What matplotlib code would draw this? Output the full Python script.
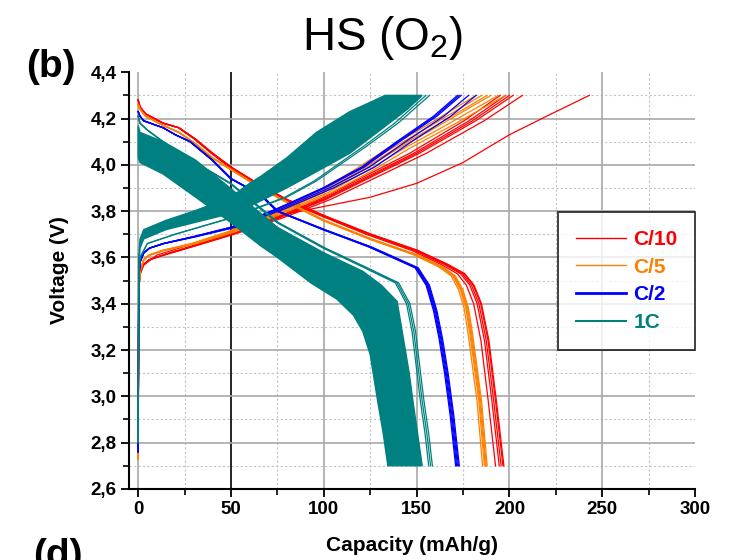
import numpy as np
import matplotlib
matplotlib.use('Agg')
import matplotlib.pyplot as plt
from matplotlib.lines import Line2D
from matplotlib.ticker import MultipleLocator, FuncFormatter

plt.rcParams['font.family'] = ['Liberation Sans', 'DejaVu Sans']
plt.rcParams['font.weight'] = 'bold'

# --- values (capacity mAh/g, voltage V) ---

# C/10 (red)
c10_dis_cap = [0, 1, 4, 13.5, 22, 31, 40, 50, 66, 80, 100, 125, 150, 166, 175, 180, 184, 188, 192, 196]
c10_dis_v = [4.28, 4.25, 4.22, 4.18, 4.16, 4.11, 4.05, 3.99, 3.91, 3.85, 3.78, 3.70, 3.63, 3.57, 3.53, 3.48, 3.40, 3.24, 2.98, 2.70]
c10_dis_end = [192.5, 194.5, 195.5, 196.5, 197.0]
c10_chg_cap = [0, 0.3, 1, 3, 6, 13.5, 30, 50, 75, 100, 125, 150, 180, 200]
c10_chg_v = [2.75, 3.45, 3.53, 3.57, 3.59, 3.61, 3.65, 3.70, 3.77, 3.85, 3.95, 4.05, 4.19, 4.30]
c10_chg_end = [195, 198, 200, 202, 207]
c10_first_cap = [0, 0.5, 2, 10, 30, 50, 75, 100, 125, 150, 175, 200, 220, 243]
c10_first_v = [2.75, 3.50, 3.56, 3.61, 3.66, 3.71, 3.78, 3.82, 3.86, 3.92, 4.01, 4.13, 4.21, 4.30]

# C/5 (orange)
c5_dis_cap = [0, 1, 4, 13.5, 22, 31, 40, 50, 66, 80, 100, 125, 150, 163, 170, 174, 177, 179, 184, 187]
c5_dis_v = [4.26, 4.24, 4.21, 4.17, 4.14, 4.09, 4.03, 3.98, 3.90, 3.84, 3.76, 3.68, 3.61, 3.56, 3.52, 3.46, 3.38, 3.28, 2.98, 2.70]
c5_dis_end = [185.5, 186.5, 187.0, 187.5, 188.0]
c5_chg_cap = [0, 0.3, 1, 3, 6, 13.5, 30, 50, 75, 100, 122, 140, 160, 175, 190]
c5_chg_v = [2.73, 3.45, 3.54, 3.59, 3.61, 3.63, 3.66, 3.71, 3.79, 3.88, 3.98, 4.07, 4.16, 4.23, 4.30]
c5_chg_end = [182, 185, 188, 190, 194, 198]

# C/2 (blue)
c2_dis_cap = [0, 1, 3, 13.5, 20, 28, 40, 50, 66, 75, 100, 125, 150, 156, 160, 163, 166, 169, 172]
c2_dis_v = [4.23, 4.21, 4.19, 4.16, 4.13, 4.10, 4.02, 3.94, 3.87, 3.80, 3.72, 3.645, 3.555, 3.48, 3.37, 3.25, 3.10, 2.92, 2.70]
c2_dis_end = [171.0, 171.5, 172.0, 172.5, 173.0]
c2_chg_cap = [0, 0.3, 1, 3, 6, 13.5, 30, 50, 75, 100, 121, 140, 160, 173]
c2_chg_v = [2.76, 3.50, 3.58, 3.62, 3.64, 3.66, 3.69, 3.73, 3.81, 3.90, 3.99, 4.10, 4.21, 4.30]
c2_chg_end = [172, 173, 174, 178, 182]

# 1C (teal): dense band of cycles given by its two edges, plus a few loose cycles
c1_dis_hi_cap = [0, 1, 13.5, 31, 49.5, 66, 75, 100, 121, 131, 139.5, 143.5, 146, 148, 150.5, 153]
c1_dis_hi_v = [4.17, 4.14, 4.10, 4.02, 3.90, 3.79, 3.73, 3.62, 3.54, 3.48, 3.41, 3.22, 3.10, 2.98, 2.84, 2.70]
c1_dis_lo_cap = [0, 1, 13.5, 31, 50, 66, 75, 93, 107, 116, 121, 125, 127, 129, 132, 134.5]
c1_dis_lo_v = [4.03, 4.01, 3.96, 3.86, 3.75, 3.65, 3.60, 3.49, 3.42, 3.35, 3.28, 3.18, 3.08, 2.98, 2.84, 2.70]
c1_dis_thin_cap = [0, 1, 5, 20, 49.5, 75, 100, 121, 139, 145, 148, 152.5, 155, 157]
c1_dis_thin_v = [4.21, 4.18, 4.15, 4.06, 3.92, 3.75, 3.64, 3.56, 3.49, 3.40, 3.28, 2.98, 2.84, 2.70]
c1_dis_thin_end = [156.5, 157.5, 158.5]
c1_chg_hi_cap = [0, 0.3, 1, 3, 15, 30, 50, 60, 80, 96, 114, 132, 145, 153]
c1_chg_hi_v = [2.80, 3.55, 3.64, 3.68, 3.72, 3.75, 3.79, 3.82, 3.90, 3.97, 4.05, 4.16, 4.24, 4.30]
c1_chg_lo_cap = [0, 0.3, 1, 3, 15, 30, 50, 60, 66, 80, 96, 114, 125, 133]
c1_chg_lo_v = [2.80, 3.60, 3.68, 3.72, 3.76, 3.80, 3.86, 3.92, 3.95, 4.03, 4.14, 4.23, 4.27, 4.30]
c1_chg_thin_cap = [0, 0.3, 1, 5, 20, 50, 80, 96, 123, 140, 157]
c1_chg_thin_v = [2.80, 3.52, 3.60, 3.66, 3.70, 3.77, 3.86, 3.93, 4.08, 4.18, 4.30]
c1_chg_thin_end = [155, 157]

labels = ['C/10', 'C/5', 'C/2', '1C']
colors = ['#FF0000', '#FF8000', '#0000FF', '#008080']


def cycles(ax, cap, v, ends, color, lw=0.9):
    cap = np.asarray(cap)
    for e in ends:
        ax.plot(cap * e / cap[-1], v, color=color, lw=lw, zorder=3)


fig = plt.figure(figsize=(7.45, 5.6), dpi=100)
ax = fig.add_axes([0.173, 0.127, 0.76, 0.744])
ax.set_xlim(-5, 300)
ax.set_ylim(2.6, 4.4)

# grid
for x in np.arange(25, 300, 50):
    ax.axvline(x, color='#c4c4c4', lw=0.8, ls=(0, (2, 2)), zorder=1)
for y in np.arange(2.7, 4.35, 0.2):
    ax.axhline(y, color='#c4c4c4', lw=0.8, ls=(0, (2, 2)), zorder=1)
for x in [0, 100, 150, 200, 250]:
    ax.axvline(x, color='#a8a8a8', lw=1.2, zorder=1)
ax.axvline(50, color='black', lw=1.2, zorder=1)
for y in np.arange(2.8, 4.25, 0.2):
    ax.axhline(y, color='#a8a8a8', lw=1.2, zorder=1)

# C/10
cycles(ax, c10_dis_cap, c10_dis_v, c10_dis_end, colors[0])
cycles(ax, c10_chg_cap, c10_chg_v, c10_chg_end, colors[0])
ax.plot(c10_first_cap, c10_first_v, color=colors[0], lw=0.9, zorder=3)
# C/5
cycles(ax, c5_dis_cap, c5_dis_v, c5_dis_end, colors[1])
cycles(ax, c5_chg_cap, c5_chg_v, c5_chg_end, colors[1])
# C/2
cycles(ax, c2_dis_cap, c2_dis_v, c2_dis_end, colors[2])
cycles(ax, c2_chg_cap, c2_chg_v, c2_chg_end, colors[2])
# 1C
ax.fill(np.r_[c1_dis_hi_cap, c1_dis_lo_cap[::-1]], np.r_[c1_dis_hi_v, c1_dis_lo_v[::-1]],
        color=colors[3], lw=1, zorder=4)
ax.fill(np.r_[c1_chg_hi_cap, c1_chg_lo_cap[::-1]], np.r_[c1_chg_hi_v, c1_chg_lo_v[::-1]],
        color=colors[3], lw=1, zorder=4)
cycles(ax, c1_dis_thin_cap, c1_dis_thin_v, c1_dis_thin_end, colors[3])
cycles(ax, c1_chg_thin_cap, c1_chg_thin_v, c1_chg_thin_end, colors[3])

# axes styling
for s in ['top', 'right']:
    ax.spines[s].set_visible(False)
for s in ['left', 'bottom']:
    ax.spines[s].set_linewidth(1.5)
ax.xaxis.set_major_locator(MultipleLocator(50))
ax.xaxis.set_minor_locator(MultipleLocator(25))
ax.yaxis.set_major_locator(MultipleLocator(0.2))
ax.yaxis.set_minor_locator(MultipleLocator(0.1))
ax.yaxis.set_major_formatter(FuncFormatter(lambda v, p: f'{v:.1f}'.replace('.', ',')))
ax.tick_params(which='major', direction='out', length=6, width=1.3, labelsize=13.5, pad=3)
ax.tick_params(which='minor', direction='out', length=4, width=1.2)
ax.set_xlabel('Capacity (mAh/g)', fontsize=15, fontweight='bold', va='top')
ax.set_ylabel('Voltage (V)', fontsize=15, fontweight='bold')
ax.xaxis.set_label_coords(0.5, -0.112)
ax.yaxis.set_label_coords(-0.106, 0.525)

handles = [Line2D([], [], color=c, lw=w) for c, w in zip(colors, [1, 1, 2, 1.5])]
leg = ax.legend(handles, labels, loc='upper right', bbox_to_anchor=(1.0, 0.664),
                prop={'size': 15, 'weight': 'bold'}, frameon=True, fancybox=False,
                edgecolor='black', handlelength=2.4, handletextpad=0.35, labelspacing=0.42,
                borderpad=0.85, borderaxespad=0)
leg.get_frame().set_linewidth(1.3)
for t, c in zip(leg.get_texts(), colors):
    t.set_color(c)
leg.set_zorder(6)

fig.text(0.513, 0.911, 'HS (O$_\\mathregular{2}$)', fontsize=33, fontweight='normal',
         ha='center', va='baseline')
fig.text(0.035, 0.862, '(b)', fontsize=28, ha='left', va='baseline')
fig.text(0.045, 1 - 538 / 560, '(d)', fontsize=28, ha='left', va='top')

fig.savefig('out.png', dpi=100)
